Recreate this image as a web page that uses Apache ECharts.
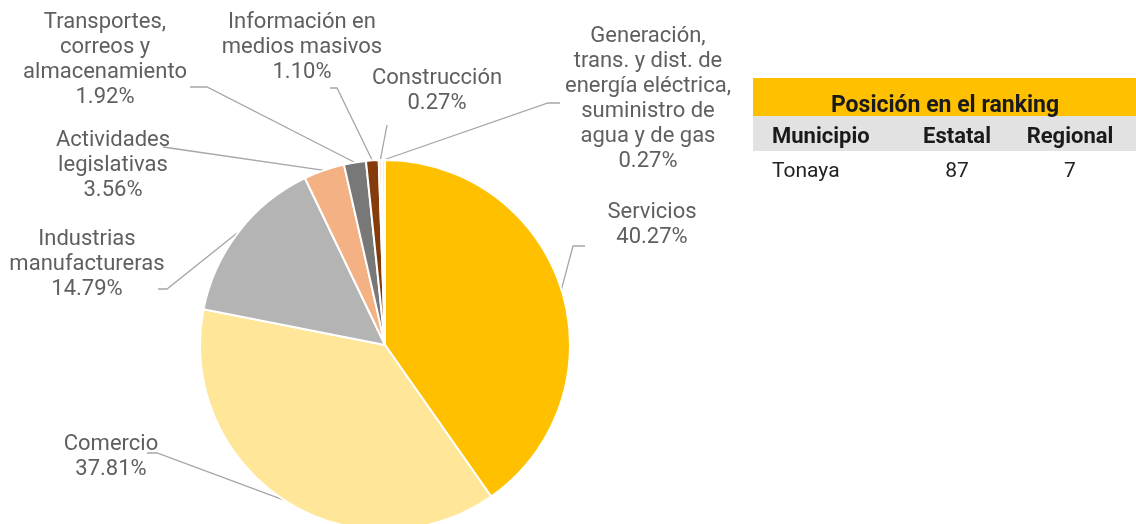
<!DOCTYPE html>
<html>
<head>
<meta charset="utf-8">
<script src="https://cdn.jsdelivr.net/npm/echarts@6/dist/echarts.min.js"></script>
<style>
  html, body { margin: 0; padding: 0; background: #fff; }
  #chart { width: 1136px; height: 524px; }
</style>
</head>
<body>
<div id="chart"></div>
<script>
// sectores (en orden de las manecillas del reloj, desde las 12)
const sectors = [
  'Servicios',
  'Comercio',
  'Industrias\nmanufactureras',
  'Actividades\nlegislativas',
  'Transportes,\ncorreos y\nalmacenamiento',
  'Información en\nmedios masivos',
  'Construcción',
  'Generación,\ntrans. y dist. de\nenergía eléctrica,\nsuministro de\nagua y de gas'
];
const shares = [40.27, 37.81, 14.79, 3.56, 1.92, 1.10, 0.27, 0.27];
const colors = ['#FFC000', '#FFE699', '#B4B4B4', '#F4B183', '#787878', '#843C0C', '#FBE5D6', '#EFEFEF'];

// tabla de ranking
const rankTitle = 'Posición en el ranking';
const rankHeaders = ['Municipio', 'Estatal', 'Regional'];
const rankRow = ['Tonaya', '87', '7'];

// donde van las etiquetas: centro del texto y quiebre de la linea guia
const labelSpots = [
  { x: 652, y: 225, bend: [573, 246], end: [585, 246] },
  { x: 111, y: 457, bend: [157, 453], end: [147, 453] },
  { x: 87,  y: 264, bend: [167, 289], end: [158, 289] },
  { x: 113, y: 165, bend: [170, 148], end: [163, 147] },
  { x: 105, y: 60,  bend: [207, 87],  end: [190, 87] },
  { x: 302, y: 47,  bend: [337, 88],  end: [330, 88] },
  { x: 437, y: 91,  bend: [387, 125], end: [387, 125] },
  { x: 648, y: 99,  bend: [548, 103], end: [560, 103] }
];

const chart = echarts.init(document.getElementById('chart'));

const textFont = 'Roboto, "Liberation Sans", sans-serif';

const tableLeft = 753;
const colX = [772, 957, 1070];
const graphics = [
  { type: 'rect', shape: { x: tableLeft, y: 78, width: 1136 - tableLeft, height: 38 }, style: { fill: '#FFC000' } },
  { type: 'rect', shape: { x: tableLeft, y: 116, width: 1136 - tableLeft, height: 35 }, style: { fill: '#E2E2E2' } },
  { type: 'text', x: 945, y: 106, style: { text: rankTitle, font: 'bold 23px ' + textFont, fill: '#1a1a1a', align: 'center', verticalAlign: 'middle' } }
];
rankHeaders.forEach(function (h, i) {
  graphics.push({ type: 'text', x: colX[i], y: 137, style: {
    text: h, font: 'bold 22px ' + textFont, fill: '#1a1a1a',
    align: i === 0 ? 'left' : 'center', verticalAlign: 'middle' } });
});
rankRow.forEach(function (v, i) {
  graphics.push({ type: 'text', x: colX[i], y: 172, style: {
    text: v, font: '21px ' + textFont, fill: '#222',
    align: i === 0 ? 'left' : 'center', verticalAlign: 'middle' } });
});

chart.setOption({
  animation: false,
  color: colors,
  graphic: graphics,
  series: [{
    type: 'pie',
    center: [385, 345],
    radius: 185,
    startAngle: 90,
    clockwise: true,
    avoidLabelOverlap: false,
    itemStyle: { borderColor: '#fff', borderWidth: 2 },
    label: {
      show: true,
      position: 'outside',
      color: '#5f5f5f',
      fontFamily: textFont,
      fontSize: 22,
      lineHeight: 25,
      align: 'center',
      formatter: function (p) { return p.name + '\n' + p.value.toFixed(2) + '%'; }
    },
    labelLine: { show: true, lineStyle: { color: '#A6A6A6', width: 1.3 } },
    labelLayout: function (params) {
      const s = labelSpots[params.dataIndex];
      const p0 = params.labelLinePoints ? params.labelLinePoints[0] : s.bend;
      return {
        x: s.x, y: s.y, align: 'center', verticalAlign: 'middle',
        labelLinePoints: [p0, s.bend, s.end]
      };
    },
    data: sectors.map(function (name, i) { return { name: name, value: shares[i] }; })
  }]
});
</script>
</body>
</html>
